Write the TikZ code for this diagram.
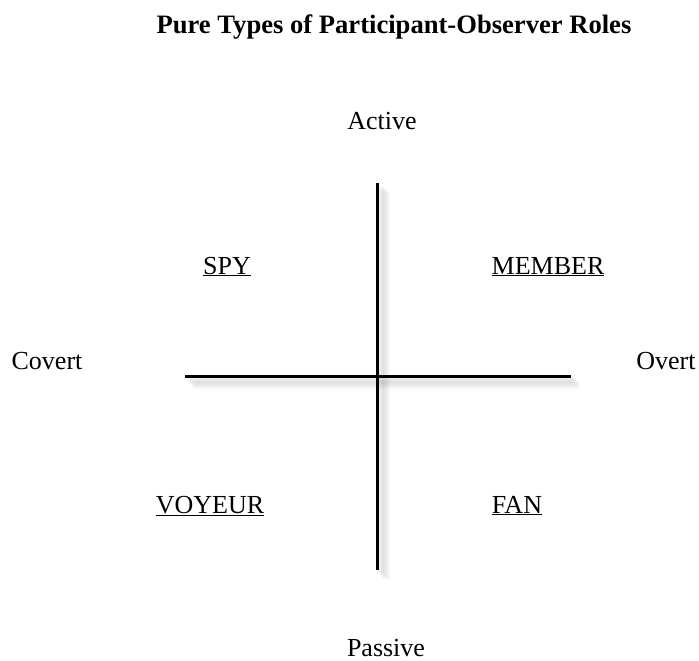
\documentclass[tikz,border=0pt]{standalone}
\usepackage{fontspec}
\setmainfont{Liberation Serif}
\usepackage{tikz}
\usetikzlibrary{positioning}

\begin{document}
\begin{tikzpicture}[
  x=1pt, y=-1pt,
  lbl/.style={font=\fontsize{26}{30}\selectfont, inner sep=0pt, anchor=base},
  role/.style={lbl},
  axis/.style={line width=3pt, black},
  shade/.style={line width=7pt, black, opacity=0.035},
]
\useasboundingbox (0,0) rectangle (699,661);

% Title
\node[font=\fontsize{26.6}{30}\selectfont\bfseries, inner sep=0pt, anchor=base] (title) at (394, 34)
{Pure Types of Participant-Observer Roles};

% Axis end labels
\node[lbl] (active) at (382, 129) {Active};
\node[lbl] (passive) at (386, 656) {Passive};
\node[lbl] (covert) at (47, 369) {Covert};
\node[lbl] (overt) at (666, 369) {Overt};

% Axis end points
\coordinate (top) at (377, 183);
\coordinate (bot) at (377, 570);
\coordinate (lft) at (185, 376);
\coordinate (rgt) at (571, 376);

% Soft shadow under the axes
\foreach \d in {3,5,7,9} {
  \draw[shade] ([shift={(\d,\d)}]lft) -- ([shift={(\d,\d)}]rgt);
  \draw[shade] ([shift={(\d,\d)}]top) -- ([shift={(\d,\d)}]bot);
}

% Axes
\draw[axis] (lft) -- (rgt);
\draw[axis] (top) -- (bot);

% Quadrant roles
\node[role] (spy) at (227, 274) {\underline{SPY}};
\node[role] (member) at (548, 274) {\underline{MEMBER}};
\node[role] (voyeur) at (210, 513) {\underline{VOYEUR}};
\node[role] (fan) at (517, 513) {\underline{FAN}};
\end{tikzpicture}
\end{document}
